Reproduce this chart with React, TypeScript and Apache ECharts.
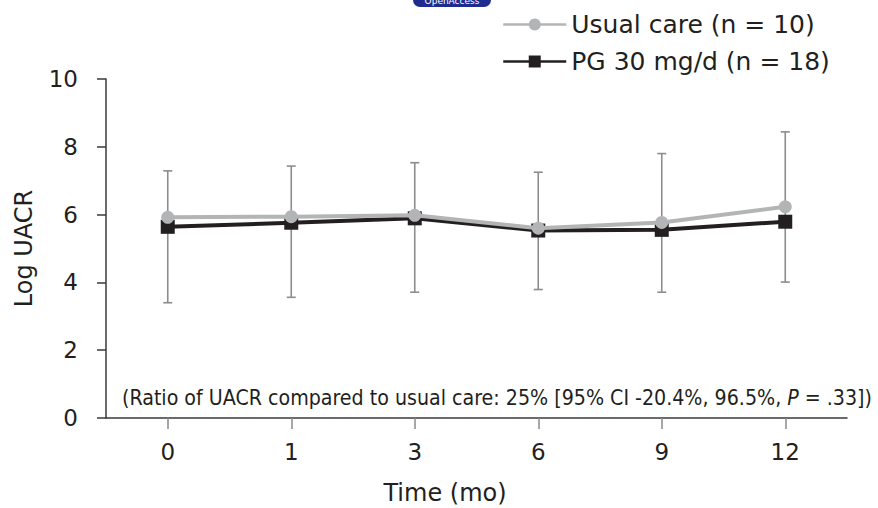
import React, { useEffect, useRef } from "react";
import * as echarts from "echarts";

const categories = ["0", "1", "3", "6", "9", "12"];
const usualCare = [5.92, 5.94, 5.98, 5.6, 5.77, 6.23];
const pg30 = [5.64, 5.76, 5.89, 5.53, 5.55, 5.79];
const errLow = [3.4, 3.56, 3.71, 3.79, 3.71, 4.01];
const errHigh = [7.29, 7.43, 7.53, 7.25, 7.8, 8.44];
const yTicks = { min: 0, max: 10, interval: 2 };
const seriesNames = ["Usual care (n = 10)", "PG 30 mg/d (n = 18)"];
const annotation =
  "(Ratio of UACR compared to usual care: 25% [95% CI -20.4%, 96.5%, {i|P} = .33])";

const FONT = "DejaVu Sans";
const TEXT = "#231f20";
const GRAY = "#b3b4b6";
const BLACK = "#231f20";
const BAR = "#8c8c8c";

export default function App() {
  const ref = useRef<HTMLDivElement>(null);
  useEffect(() => {
    if (!ref.current) return;
    const chart = echarts.init(ref.current, null, { renderer: "svg" });
    const errData = categories.map((c, i) => [i, errLow[i], errHigh[i]]);
    chart.setOption({
      animation: false,
      backgroundColor: "#ffffff",
      textStyle: { fontFamily: FONT },
      grid: { left: 106, right: 31, top: 79, bottom: 90, containLabel: false, outerBoundsMode: "none" },
      legend: {
        data: seriesNames,
        orient: "vertical",
        left: 502,
        top: 12,
        padding: 0,
        itemWidth: 63,
        itemHeight: 15,
        itemGap: 12,
        lineStyle: { width: 2.5 },
        textStyle: { fontFamily: FONT, fontSize: 25, color: TEXT, lineHeight: 25 },
      },
      xAxis: {
        type: "category",
        data: categories,
        boundaryGap: true,
        axisLine: { show: true, lineStyle: { color: "#3a3a3a", width: 1.5 } },
        axisTick: { show: true, alignWithLabel: true, length: 11, lineStyle: { color: "#8a8a8a", width: 1.5 } },
        axisLabel: { fontFamily: FONT, fontSize: 23, color: TEXT, margin: 22 },
        splitLine: { show: false },
      },
      yAxis: {
        type: "value",
        min: yTicks.min,
        max: yTicks.max,
        interval: yTicks.interval,
        name: "Log UACR",
        nameLocation: "middle",
        nameGap: 70,
        nameTextStyle: { fontFamily: FONT, fontSize: 24, color: TEXT },
        axisLine: { show: true, lineStyle: { color: "#3a3a3a", width: 1.5 } },
        axisTick: { show: true, length: 9, lineStyle: { color: "#3a3a3a", width: 1.5 } },
        axisLabel: { fontFamily: FONT, fontSize: 23, color: TEXT, margin: 28 },
        splitLine: { show: false },
      },
      graphic: [
        {
          type: "rect",
          shape: { x: 413, y: -9, width: 78, height: 16, r: 7 },
          style: { fill: "#1f2c8f" },
        },
        {
          type: "text",
          x: 452,
          y: 1,
          style: {
            text: "OpenAccess",
            fill: "#ffffff",
            font: `9px ${FONT}`,
            textAlign: "center",
            textVerticalAlign: "middle",
          },
        },
        {
          type: "text",
          x: 122,
          y: 397,
          style: {
            text: annotation,
            fill: TEXT,
            fontFamily: "DejaVu Sans Condensed",
            fontSize: 21.2,
            textVerticalAlign: "middle",
            rich: {
              i: { fontFamily: "DejaVu Sans Condensed", fontSize: 21.2, fontStyle: "italic", fill: TEXT },
            },
          },
        },
        {
          type: "text",
          x: 445,
          y: 493,
          style: {
            text: "Time (mo)",
            fill: TEXT,
            fontFamily: FONT,
            fontSize: 24,
            textAlign: "center",
            textVerticalAlign: "middle",
          },
        },
      ],
      series: [
        {
          type: "custom",
          name: "error",
          data: errData,
          z: 1,
          renderItem: (params: any, api: any) => {
            const x = api.value(0);
            const lo = api.coord([x, api.value(1)]);
            const hi = api.coord([x, api.value(2)]);
            const cw = 4.5;
            const st = { stroke: BAR, lineWidth: 1.6 };
            return {
              type: "group",
              children: [
                { type: "line", shape: { x1: lo[0], y1: lo[1], x2: hi[0], y2: hi[1] }, style: st },
                { type: "line", shape: { x1: lo[0] - cw, y1: lo[1], x2: lo[0] + cw, y2: lo[1] }, style: st },
                { type: "line", shape: { x1: hi[0] - cw, y1: hi[1], x2: hi[0] + cw, y2: hi[1] }, style: st },
              ],
            };
          },
        },
        {
          type: "line",
          name: seriesNames[1],
          data: pg30,
          z: 3,
          symbol: "rect",
          symbolSize: 14,
          lineStyle: { color: BLACK, width: 4 },
          itemStyle: { color: BLACK },
        },
        {
          type: "line",
          name: seriesNames[0],
          data: usualCare,
          z: 4,
          symbol: "circle",
          symbolSize: 13,
          lineStyle: { color: GRAY, width: 4 },
          itemStyle: { color: GRAY },
        },
      ],
    });
    return () => chart.dispose();
  }, []);
  return (
    <div
      ref={ref}
      style={{ position: "fixed", left: 0, top: 0, width: 878, height: 508 }}
    />
  );
}
